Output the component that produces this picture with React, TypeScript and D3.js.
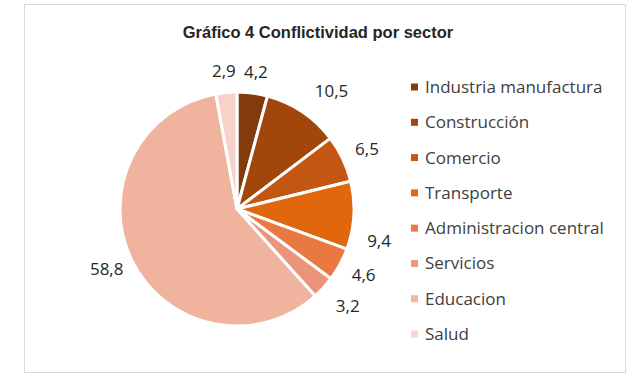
import React from 'react';
import * as d3 from 'd3';

const sectors = [
  'Industria manufactura',
  'Construcción',
  'Comercio',
  'Transporte',
  'Administracion central',
  'Servicios',
  'Educacion',
  'Salud',
];
const values = [4.2, 10.5, 6.5, 9.4, 4.6, 3.2, 58.8, 2.9];
const valueLabels = ['4,2', '10,5', '6,5', '9,4', '4,6', '3,2', '58,8', '2,9'];
const colors = [
  '#843c0c',
  '#a5470c',
  '#c65911',
  '#e4690c',
  '#ee7a42',
  '#f0977c',
  '#f4b6a0',
  '#fad6cc',
];
// best-fit label nudges, like Excel moves some labels (degrees / px)
const labelNudge = [0, 3, 0, 10, 0, 0, 0, 0];
const labelPush = [0, 9, 0, 2, 0, 6, -3, 0];

const width = 640;
const height = 387;

const App: React.FC = () => {
  const cx = 237;
  const cy = 209;
  const radius = 117;

  const pie = d3
    .pie<number>()
    .sort(null)
    .value((d) => d);
  const arcs = pie(values);

  const arc = d3.arc<d3.PieArcDatum<number>>().innerRadius(0).outerRadius(radius);

  // place label box just outside the rim
  const labelPos = (a: d3.PieArcDatum<number>, i: number, text: string) => {
    const ang = (a.startAngle + a.endAngle) / 2 + (labelNudge[i] * Math.PI) / 180;
    const s = Math.sin(ang);
    const c = -Math.cos(ang);
    const rEdge = radius + 14 + labelPush[i];
    const hw = text.length * 4.3;
    const hh = 7.5;
    return [rEdge * s + hw * s, rEdge * c + hh * c];
  };

  const legendY = d3.scalePoint<string>().domain(sectors).range([87, 334]);

  return (
    <div style={{ position: 'absolute', left: 0, top: 0 }}>
      <svg width={width} height={height} style={{ display: 'block' }}>
        <defs>
          {colors.map((c, i) => (
            <radialGradient
              key={i}
              id={`grad-${i}`}
              gradientUnits="userSpaceOnUse"
              cx={cx}
              cy={cy}
              r={radius}
            >
              <stop offset="0%" stopColor={c} />
              <stop offset="55%" stopColor={d3.color(c)!.brighter(0.18).formatHex()} />
              <stop offset="100%" stopColor={d3.color(c)!.darker(0.05).formatHex()} />
            </radialGradient>
          ))}
        </defs>
        <rect x={0} y={0} width={width} height={height} fill="#fff" />
        <rect
          x={24.5}
          y={4.5}
          width={601}
          height={368}
          fill="#fff"
          stroke="#d9d9d9"
          strokeWidth={1}
        />
        <text
          x={318}
          y={38}
          textAnchor="middle"
          fontFamily="'Liberation Sans', Arial, sans-serif"
          fontWeight="bold"
          fontSize={16.5}
          fill="#262626"
        >
          Gráfico 4 Conflictividad por sector
        </text>
        <g>
          {arcs.map((a, i) => (
            <path
              key={i}
              d={arc(a) || ''}
              transform={`translate(${cx},${cy})`}
              fill={`url(#grad-${i})`}
              stroke="#fff"
              strokeWidth={3}
              strokeLinejoin="round"
            />
          ))}
        </g>
        <g
          transform={`translate(${cx},${cy})`}
          fontFamily="'Open Sans', sans-serif"
          fontSize={17}
          fill="#262626"
        >
          {arcs.map((a, i) => {
            const [lx, ly] = labelPos(a, i, valueLabels[i]);
            return (
              <text key={`l${i}`} x={lx} y={ly} dy="0.35em" textAnchor="middle">
                {valueLabels[i]}
              </text>
            );
          })}
        </g>
        <g fontFamily="'Open Sans', sans-serif" fontSize={17} fill="#404040">
          {sectors.map((s, i) => (
            <g key={s} transform={`translate(411,${legendY(s)})`}>
              <rect x={0} y={-3.5} width={7} height={7} fill={colors[i]} />
              <text x={14} y={0} dy="0.35em">
                {s}
              </text>
            </g>
          ))}
        </g>
      </svg>
    </div>
  );
};

export default App;
